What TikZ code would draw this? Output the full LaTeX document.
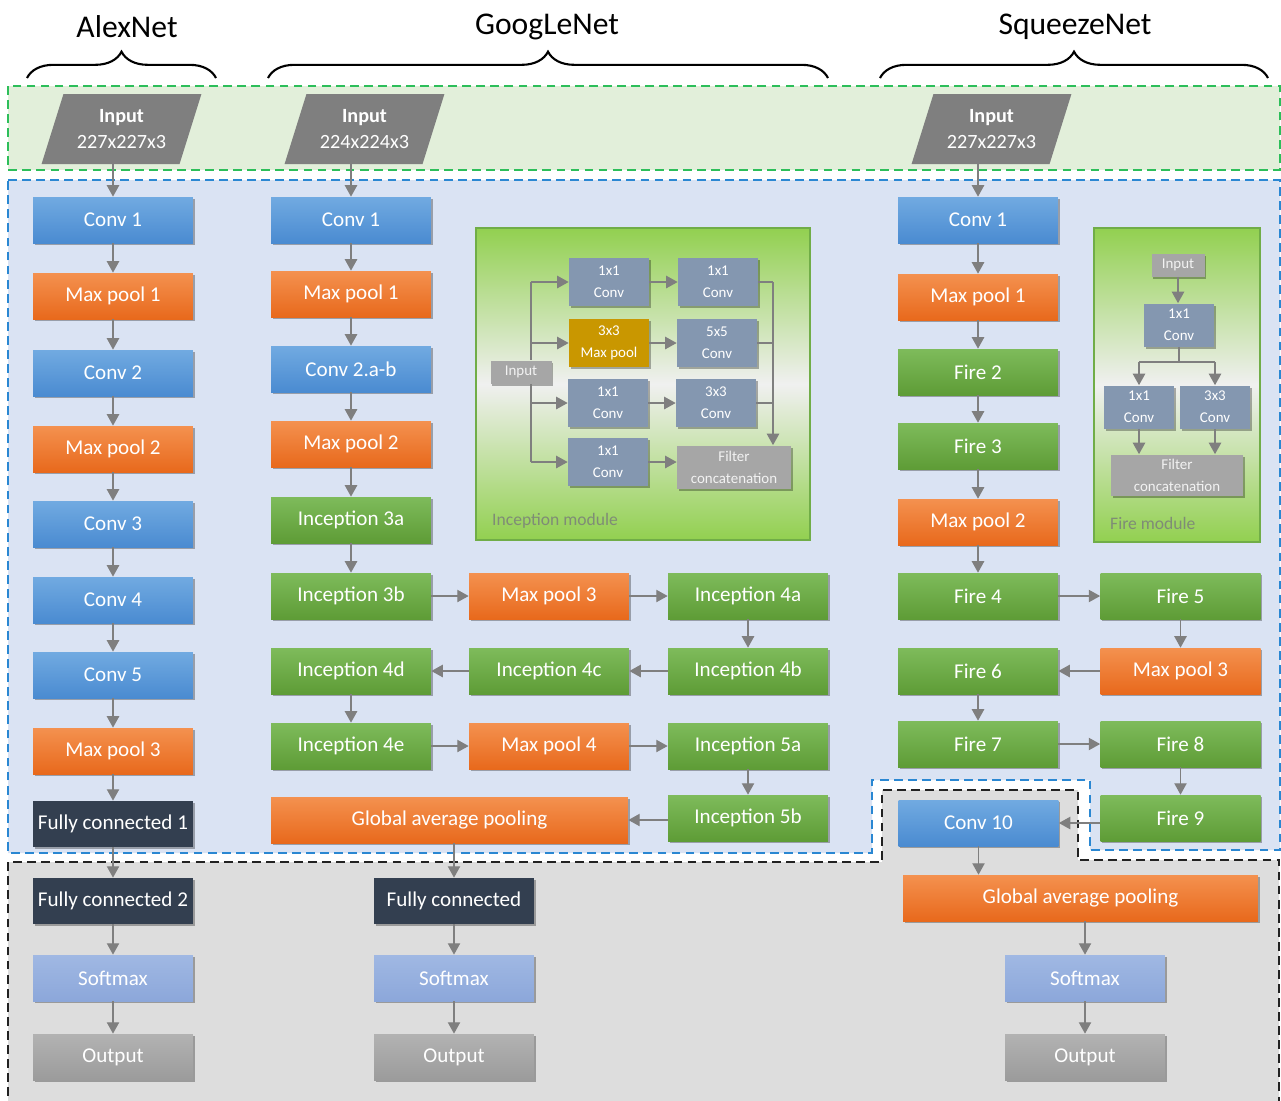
\documentclass[tikz,border=0pt]{standalone}
\usepackage{fontspec}
\setmainfont{Carlito}
\usetikzlibrary{arrows.meta}
\usetikzlibrary{shapes.geometric, shadows, decorations.pathreplacing}

\definecolor{greenbg}{HTML}{E2EFDA}
\definecolor{bluebg}{HTML}{DAE3F3}
\definecolor{graybg}{HTML}{DDDDDD}
\definecolor{dashgreen}{HTML}{2DBE5A}
\definecolor{dashblue}{HTML}{2A87D2}
\definecolor{dashblack}{HTML}{222222}
\definecolor{convtop}{HTML}{71AAE1}
\definecolor{convbot}{HTML}{4A8BD1}
\definecolor{pooltop}{HTML}{F4914F}
\definecolor{poolbot}{HTML}{E8691C}
\definecolor{inctop}{HTML}{7EBB5B}
\definecolor{incbot}{HTML}{5E9C36}
\definecolor{fcnavy}{HTML}{333F50}
\definecolor{softtop}{HTML}{A0B8E3}
\definecolor{softbot}{HTML}{8CA7DA}
\definecolor{outtop}{HTML}{B2B2B2}
\definecolor{outbot}{HTML}{9B9B9B}
\definecolor{ingray}{HTML}{7F7F7F}
\definecolor{arrgray}{HTML}{7F7F7F}
\definecolor{slate}{HTML}{8497B0}
\definecolor{concatgray}{HTML}{A6A6A6}
\definecolor{goldpool}{HTML}{C99700}
\definecolor{modgreen}{HTML}{70AD47}
\definecolor{modtop}{HTML}{92D050}
\definecolor{modmid}{HTML}{F0F0F0}
\definecolor{modtext}{HTML}{7F8C76}

\tikzset{
  shadowed/.style={drop shadow={shadow xshift=1pt, shadow yshift=-1.3pt, opacity=0.3, fill=black}},
  layer/.style={minimum width=3.2cm, minimum height=0.92cm, inner sep=0pt, text=white,
    font=\fontsize{12}{14}\selectfont, shadowed},
  convbox/.style={layer, top color=convtop, bottom color=convbot},
  poolbox/.style={layer, top color=pooltop, bottom color=poolbot},
  incbox/.style={layer, top color=inctop, bottom color=incbot},
  fcbox/.style={layer, fill=fcnavy},
  softbox/.style={layer, top color=softtop, bottom color=softbot},
  outbox/.style={layer, top color=outtop, bottom color=outbot},
  inbox/.style={trapezium, trapezium left angle=67, trapezium right angle=113,
    trapezium stretches=true, minimum width=3.2cm, minimum height=1.4cm, inner sep=0pt,
    fill=ingray, text=white, align=center, font=\fontsize{11.5}{15}\selectfont},
  title/.style={font=\fontsize{18}{20}\selectfont},
  brace/.style={decorate, decoration={brace, amplitude=15pt}, line width=1.2pt},
  regiondash/.style={line width=1.1pt, dash pattern=on 5pt off 3pt},
  modbox/.style={draw=modgreen, line width=1.6pt, inner sep=0pt,
    top color=modtop, bottom color=modtop, middle color=modmid},
  modlabel/.style={anchor=west, text=modtext, font=\fontsize{10}{12}\selectfont},
  small/.style={minimum width=1.6cm, minimum height=0.96cm, inner sep=0pt, align=center,
    text=white, font=\fontsize{8.5}{12.5}\selectfont, fill=slate, shadowed},
  smallgray/.style={small, fill=concatgray, text=white!95!black},
  arr/.style={-{Triangle[width=7pt,length=6.5pt]}, draw=arrgray, line width=0.8pt},
  ln/.style={draw=arrgray, line width=0.8pt}
}

\begin{document}
\begin{tikzpicture}[x=0.02cm, y=-0.02cm]
	\useasboundingbox (0,0) rectangle (1281,1100);
	\clip (0,0) rectangle (1281,1100);
	
	%regions
	\filldraw[regiondash, draw=dashgreen, fill=greenbg] (8,86) rectangle (1280,170);
	\filldraw[regiondash, draw=dashblue, fill=bluebg] (8,180) -- (1280,180) -- (1280,850) -- (1090,850) -- (1090,780) -- (872,780) -- (872,853) -- (8,853) -- cycle;
	\filldraw[regiondash, draw=dashblack, fill=graybg] (8,1110) -- (8,862) -- (882,862) -- (882,790) -- (1078,790) -- (1078,860) -- (1279,860) -- (1279,1110) -- cycle;
	
	%titles
	\node[title] (tAlex) at (127,27) {AlexNet};
	\node[title] (tGoog) at (547,27) {GoogLeNet};
	\node[title] (tSqz) at (1075,27) {SqueezeNet};
	\draw[brace] (27,78) -- (216,78);
	\draw[brace] (268,78) -- (828,78);
	\draw[brace] (880,78) -- (1268,78);
	
	%AlexNet
	\node[inbox] (aIn) at (121.5,129) {\textbf{Input}\\227x227x3};
	\node[convbox] (aC1) at (113,220) {Conv 1};
	\node[poolbox] (aP1) at (113,296) {Max pool 1};
	\node[convbox] (aC2) at (113,373) {Conv 2};
	\node[poolbox] (aP2) at (113,449) {Max pool 2};
	\node[convbox] (aC3) at (113,524) {Conv 3};
	\node[convbox] (aC4) at (113,600) {Conv 4};
	\node[convbox] (aC5) at (113,675) {Conv 5};
	\node[poolbox] (aP3) at (113,751) {Max pool 3};
	\node[fcbox] (aF1) at (113,824) {Fully connected 1};
	\node[fcbox] (aF2) at (113,901) {Fully connected 2};
	\node[softbox] (aSm) at (113,978) {Softmax};
	\node[outbox] (aOut) at (113,1057) {Output};
	
	%GoogLeNet
	\node[inbox] (gIn) at (364.5,129) {\textbf{Input}\\224x224x3};
	\node[convbox] (gC1) at (351,220) {Conv 1};
	\node[poolbox] (gP1) at (351,294) {Max pool 1};
	\node[convbox] (gC2) at (351,369) {Conv 2.a-b};
	\node[poolbox] (gP2) at (351,444) {Max pool 2};
	\node[incbox] (g3a) at (351,520) {Inception 3a};
	\node[incbox] (g3b) at (351,596) {Inception 3b};
	\node[poolbox] (gP3) at (549,596) {Max pool 3};
	\node[incbox] (g4a) at (748,596) {Inception 4a};
	\node[incbox] (g4b) at (748,671) {Inception 4b};
	\node[incbox] (g4c) at (549,671) {Inception 4c};
	\node[incbox] (g4d) at (351,671) {Inception 4d};
	\node[incbox] (g4e) at (351,746) {Inception 4e};
	\node[poolbox] (gP4) at (549,746) {Max pool 4};
	\node[incbox] (g5a) at (748,746) {Inception 5a};
	\node[incbox] (g5b) at (748,818) {Inception 5b};
	\node[poolbox, minimum width=7.14cm] (gGap) at (449.5,820) {Global average pooling};
	\node[fcbox] (gFc) at (454,901) {Fully connected};
	\node[softbox] (gSm) at (454,978) {Softmax};
	\node[outbox] (gOut) at (454,1057) {Output};
	
	%SqueezeNet
	\node[inbox] (sIn) at (991.5,129) {\textbf{Input}\\227x227x3};
	\node[convbox] (sC1) at (978,220) {Conv 1};
	\node[poolbox] (sP1) at (978,297) {Max pool 1};
	\node[incbox] (sF2) at (978,372) {Fire 2};
	\node[incbox] (sF3) at (978,446) {Fire 3};
	\node[poolbox] (sP2) at (978,522) {Max pool 2};
	\node[incbox] (sF4) at (978,596) {Fire 4};
	\node[incbox] (sF5) at (1180.5,596) {Fire 5};
	\node[poolbox] (sP3) at (1180.5,671) {Max pool 3};
	\node[incbox] (sF6) at (978,671) {Fire 6};
	\node[incbox] (sF7) at (978,744) {Fire 7};
	\node[incbox] (sF8) at (1180.5,744) {Fire 8};
	\node[incbox] (sF9) at (1180.5,818) {Fire 9};
	\node[convbox] (sC10) at (978.5,823) {Conv 10};
	\node[poolbox, minimum width=7.1cm] (sGap) at (1080.5,898) {Global average pooling};
	\node[softbox] (sSm) at (1085,978) {Softmax};
	\node[outbox] (sOut) at (1085,1057) {Output};
	
	%arrows AlexNet
	\draw[arr] (aC1 |- aIn.south) -- (aC1);
	\draw[arr] (aC1) -- (aP1);
	\draw[arr] (aP1) -- (aC2);
	\draw[arr] (aC2) -- (aP2);
	\draw[arr] (aP2) -- (aC3);
	\draw[arr] (aC3) -- (aC4);
	\draw[arr] (aC4) -- (aC5);
	\draw[arr] (aC5) -- (aP3);
	\draw[arr] (aP3) -- (aF1);
	\draw[arr] (aF1) -- (aF2);
	\draw[arr] (aF2) -- (aSm);
	\draw[arr] (aSm) -- (aOut);
	
	%arrows GoogLeNet
	\draw[arr] (gC1 |- gIn.south) -- (gC1);
	\draw[arr] (gC1) -- (gP1);
	\draw[arr] (gP1) -- (gC2);
	\draw[arr] (gC2) -- (gP2);
	\draw[arr] (gP2) -- (g3a);
	\draw[arr] (g3a) -- (g3b);
	\draw[arr] (g3b) -- (gP3);
	\draw[arr] (gP3) -- (g4a);
	\draw[arr] (g4a) -- (g4b);
	\draw[arr] (g4b) -- (g4c);
	\draw[arr] (g4c) -- (g4d);
	\draw[arr] (g4d) -- (g4e);
	\draw[arr] (g4e) -- (gP4);
	\draw[arr] (gP4) -- (g5a);
	\draw[arr] (g5a) -- (g5b);
	\draw[arr] (g5b.west |- gGap) -- (gGap);
	\draw[arr] (gFc |- gGap.south) -- (gFc);
	\draw[arr] (gFc) -- (gSm);
	\draw[arr] (gSm) -- (gOut);
	
	%arrows SqueezeNet
	\draw[arr] (sC1 |- sIn.south) -- (sC1);
	\draw[arr] (sC1) -- (sP1);
	\draw[arr] (sP1) -- (sF2);
	\draw[arr] (sF2) -- (sF3);
	\draw[arr] (sF3) -- (sP2);
	\draw[arr] (sP2) -- (sF4);
	\draw[arr] (sF4) -- (sF5);
	\draw[arr] (sF5) -- (sP3);
	\draw[arr] (sP3) -- (sF6);
	\draw[arr] (sF6) -- (sF7);
	\draw[arr] (sF7) -- (sF8);
	\draw[arr] (sF8) -- (sF9);
	\draw[arr] (sF9.west |- sC10) -- (sC10);
	\draw[arr] (sC10.south) -- (sC10.south |- sGap.north);
	\draw[arr] (sSm |- sGap.south) -- (sSm);
	\draw[arr] (sSm) -- (sOut);
	
	%inception module
	\node[modbox, minimum width=6.68cm, minimum height=6.24cm] (incMod) at (643,384) {};
	\node[modlabel] (incLabel) at (486,521) {Inception module};
	\node[smallgray, minimum width=1.22cm, minimum height=0.46cm] (iIn) at (521,372) {Input};
	\node[small] (i11) at (609,282) {1x1\\Conv};
	\node[small] (i12) at (718,282) {1x1\\Conv};
	\node[small, fill=goldpool] (i21) at (609,343) {3x3\\Max pool};
	\node[small] (i22) at (717,343) {5x5\\Conv};
	\node[small] (i31) at (608,403) {1x1\\Conv};
	\node[small] (i32) at (716,403) {3x3\\Conv};
	\node[small] (i41) at (608,462) {1x1\\Conv};
	\node[smallgray, minimum width=2.28cm, minimum height=0.86cm] (iFc) at (734,467) {Filter\\concatenation};
	\coordinate (iTop) at (531,282);
	\coordinate (iBot) at (531,462);
	\coordinate (iOut) at (773,282);
	\draw[ln] (iTop) -- (iTop |- iIn.north);
	\draw[ln] (iBot |- iIn.south) -- (iBot);
	\draw[arr] (iTop) -- (i11);
	\draw[arr] (iTop |- i21) -- (i21);
	\draw[arr] (iTop |- i31) -- (i31);
	\draw[arr] (iBot) -- (i41);
	\draw[arr] (i11) -- (i12);
	\draw[arr] (i21) -- (i22);
	\draw[arr] (i31) -- (i32);
	\draw[arr] (i41) -- (i41 -| iFc.west);
	\draw[ln] (i12) -- (iOut);
	\draw[ln] (i22) -- (iOut |- i22);
	\draw[ln] (i32) -- (iOut |- i32);
	\draw[arr] (iOut) -- (iOut |- iFc.north);
	
	%fire module
	\node[modbox, minimum width=3.32cm, minimum height=6.28cm] (fireMod) at (1177,385) {};
	\node[modlabel] (fireLabel) at (1104,523) {Fire module};
	\node[smallgray, minimum width=1.06cm, minimum height=0.46cm] (fIn) at (1178,265) {Input};
	\node[small, minimum width=1.4cm, minimum height=0.86cm] (f1) at (1179,325) {1x1\\Conv};
	\node[small, minimum width=1.4cm, minimum height=0.86cm] (f2) at (1139,407) {1x1\\Conv};
	\node[small, minimum width=1.4cm, minimum height=0.86cm] (f3) at (1215,407) {3x3\\Conv};
	\node[smallgray, minimum width=2.64cm, minimum height=0.82cm] (fFc) at (1177,475) {Filter\\concatenation};
	\coordinate (fSplit) at (1179,362);
	\draw[arr] (fIn) -- (fIn |- f1.north);
	\draw[ln] (f1) -- (fSplit);
	\draw[ln] (f2 |- fSplit) -- (f3 |- fSplit);
	\draw[arr] (f2 |- fSplit) -- (f2);
	\draw[arr] (f3 |- fSplit) -- (f3);
	\draw[arr] (f2) -- (f2 |- fFc.north);
	\draw[arr] (f3) -- (f3 |- fFc.north);
	
\end{tikzpicture}
\end{document}
